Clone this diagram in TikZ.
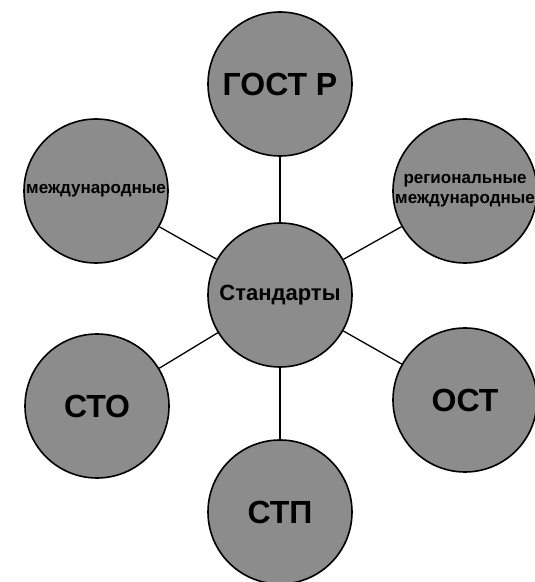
\documentclass[tikz,border=0pt]{standalone}
\usepackage{fontspec}
\setmainfont{Liberation Sans}
\definecolor{dither}{gray}{0.55}
\begin{document}
\begin{tikzpicture}[x=1pt,y=1pt,
  bubble/.style={circle,draw=black,line width=1.6pt,fill=dither,minimum size=144pt,inner sep=0pt,align=center},
  big/.style={font=\bfseries\fontsize{32}{35}\selectfont},
  small/.style={font=\bfseries\fontsize{17}{20}\selectfont},
  link/.style={draw=black,line width=1.3pt}]
\useasboundingbox (0,0) rectangle (535,582);
\clip (0,0) rectangle (535,582);
\fill[white] (0,0) rectangle (535,582);
\node[bubble,font=\bfseries\fontsize{22}{25}\selectfont] (std) at (280,287) {Стандарты};
\node[bubble,big] (gost) at (280,498) {ГОСТ Р};
\node[bubble,small] (mezh) at (96,391) {международные};
\node[bubble,small] (reg) at (465,391) {региональные\\международные};
\node[bubble,big] (sto) at (97,176) {СТО};
\node[bubble,big] (ost) at (465,182) {ОСТ};
\node[bubble,big] (stp) at (280,70) {СТП};
\draw[link] (std) -- (gost);
\draw[link] (std) -- (mezh);
\draw[link] (std) -- (reg);
\draw[link] (std) -- (sto);
\draw[link] (std) -- (ost);
\draw[link] (std) -- (stp);
\end{tikzpicture}
\end{document}
